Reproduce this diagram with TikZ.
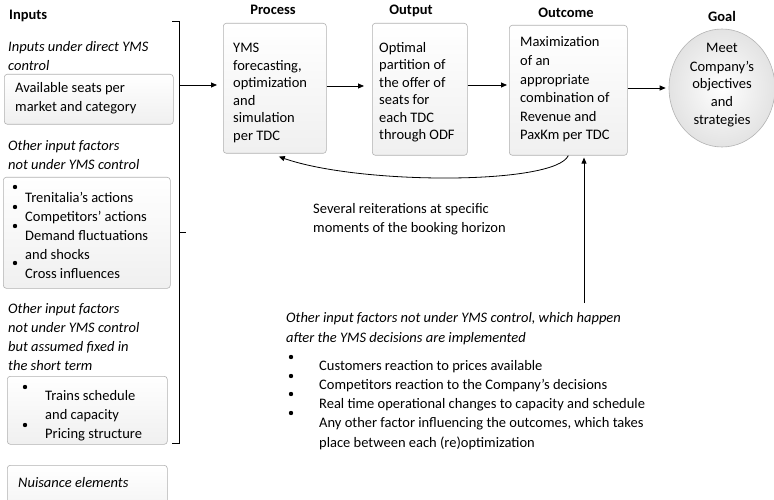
\documentclass[tikz,border=0pt]{standalone}
\usepackage{fontspec}
\setmainfont{Carlito}
\usetikzlibrary{arrows.meta,shapes.geometric}
\newcommand\bodysize[1]{\fontsize{14.5}{#1}\selectfont}
\begin{document}
\begin{tikzpicture}[x=1pt,y=-1pt,
  every node/.style={inner sep=0pt},
  % multi-line texts are placed by the baseline of their last line
  txt/.style={anchor=base west, align=left, font=\bodysize{19}},
  itxt/.style={txt, font=\bodysize{19}\itshape},
  head/.style={anchor=base, font=\bodysize{18}\bfseries},
  panel/.style={draw=gray!60, line width=0.6pt, rounded corners=3pt,
    top color=white, bottom color=gray!12, anchor=north west},
  arr/.style={-{Triangle[length=6pt,width=5pt]}, line width=0.8pt},
  bullet/.style={fill=black}
]
\useasboundingbox (0,0) rectangle (774,500);
\clip (0,0) rectangle (774,500);

% ---------- Inputs column ----------
\node[head, anchor=base west] (inputs) at (9,20) {Inputs};
\node[itxt] (direct) at (8,71) {Inputs under direct YMS\\control};
\node[panel, minimum width=169pt, minimum height=50pt] (seatsbox) at (4,74) {};
\node[txt] (seats) at (15,112) {Available seats per\\market and category};

\node[itxt] (other1) at (8,169) {Other input factors\\not under YMS control};
\node[panel, minimum width=167pt, minimum height=111pt] (ctrlbox) at (3,177) {};
\foreach \y in {187,207,226,263} \fill[bullet] (15,\y) circle[radius=2.2];
\node[txt] (ctrl) at (25,278) {Trenitalia’s actions\\Competitors’ actions\\Demand fluctuations\\and shocks\\Cross influences};

\node[itxt] (other2) at (8,370) {Other input factors\\not under YMS control\\but assumed fixed in\\the short term};
\node[panel, minimum width=160pt, minimum height=68pt] (fixedbox) at (7,376) {};
\foreach \y in {387,425} \fill[bullet] (25,\y) circle[radius=2.2];
\node[txt] (fixed) at (45,438) {Trains schedule\\and capacity\\Pricing structure};

\node[panel, minimum width=160pt, minimum height=60pt] (nuisbox) at (7,465) {};
\node[itxt] (nuis) at (18,487) {Nuisance elements};

% bracket gathering the inputs
\draw[line width=0.8pt] (172,21) -- (179,21) -- (179,443) -- (172,443);
\draw[line width=0.8pt] (179,232) -- (186,232);
\coordinate (bk) at (180,85);

% ---------- Process chain ----------
\node[head] (hproc) at (273,15) {Process};
\node[panel, minimum width=103pt, minimum height=130pt] (proc) at (223,23) {};
\node[txt, font=\bodysize{17.5}] (proctxt) at (233,140.5) {YMS\\forecasting,\\optimization\\and\\simulation\\per TDC};

\node[head] (hout) at (411,15) {Output};
\node[panel, minimum width=95pt, minimum height=132pt] (out) at (372,23) {};
\node[txt, font=\bodysize{17.6}] (outtxt) at (379,140) {Optimal\\partition of\\the offer of\\seats for\\each TDC\\through ODF};

\node[head] (hoc) at (566,18) {Outcome};
\node[panel, minimum width=118pt, minimum height=130pt] (oc) at (509,25) {};
\node[txt, font=\bodysize{18.6}] (octxt) at (520,140) {Maximization\\of an\\appropriate\\combination of\\Revenue and\\PaxKm per TDC};

\node[head] (hgoal) at (722,22) {Goal};
\node[ellipse, draw=gray!60, line width=0.6pt, minimum width=106pt, minimum height=118pt,
  inner color=white, outer color=gray!22] (goal) at (722,88) {};
\node[anchor=base, align=center, font=\bodysize{18}] (goaltxt) at (722,125) {Meet\\Company’s\\objectives\\and\\strategies};

% forward arrows
\draw[arr, shorten >=6pt] (bk) -- (proc.west |- bk);
\draw[arr, shorten >=8pt] (proc.east |- 0,86) -- (out.west |- 0,86);
\draw[arr, shorten >=2pt] (out.east |- 0,85) -- (oc.west |- 0,85);
\draw[arr, shorten >=3pt] (oc.east |- 0,88) -- (goal.west |- 0,88);

% feedback loop
\draw[arr] (oc.south) .. controls (555,185) and (360,185) .. ([xshift=4pt,yshift=-3pt]proc.south);
\node[txt] (loop) at (313,232) {Several reiterations at specific\\moments of the booking horizon};

% external factors
\coordinate (ext) at (584,303);
\draw[arr, shorten >=2pt] (ext) -- (ext |- oc.south);
\node[itxt, font=\bodysize{20}\itshape] (exthead) at (286,342) {Other input factors not under YMS control, which happen\\after the YMS decisions are implemented};
\foreach \y in {357,376,394,413} \fill[bullet] (291,\y) circle[radius=2.2];
\node[txt, font=\bodysize{19.2}] (extlist) at (319,447) {Customers reaction to prices available\\Competitors reaction to the Company’s decisions\\Real time operational changes to capacity and schedule\\Any other factor influencing the outcomes, which takes\\place between each (re)optimization};
\end{tikzpicture}
\end{document}
